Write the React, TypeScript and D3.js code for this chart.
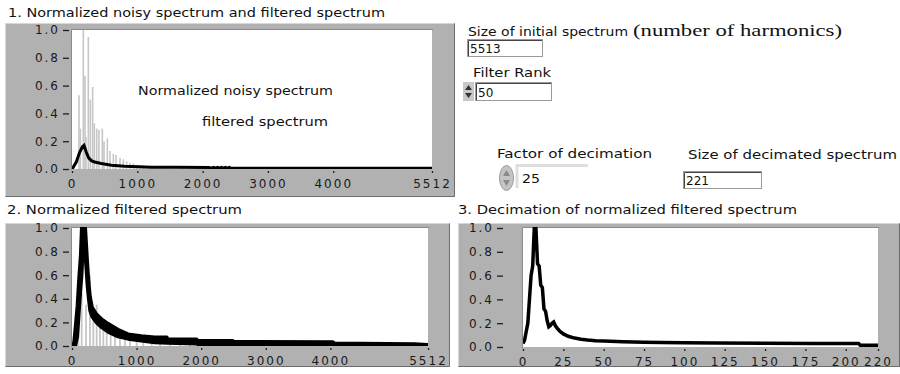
import { useEffect, useRef } from "react";
import * as d3 from "d3";

const W = 900;
const H = 374;

const PANEL = "#b1b1b1";
const SPIKE = "#c6c6c6";
const FONT = "'DejaVu Sans', Tahoma, sans-serif";

const spectrumTicks = [0, 1000, 2000, 3000, 4000, 5512];
const decimatedTicks = [0, 25, 50, 75, 100, 125, 150, 175, 200, 220];
const amplitudeTicks = [0, 0.2, 0.4, 0.6, 0.8, 1.0];

// 1. noisy spectrum spikes: [harmonic, amplitude]
const noisySpikes: [number, number][] = [
  [107, 0.53], [128, 0.29], [173, 1.0], [199, 0.67], [214, 0.23], [250, 0.95],
  [281, 0.5], [316, 0.59], [342, 0.33], [378, 0.29], [413, 0.28], [464, 0.29],
  [490, 0.2], [541, 0.22], [582, 0.13], [633, 0.11], [674, 0.1], [735, 0.08],
  [786, 0.07], [837, 0.055], [888, 0.045], [939, 0.04], [990, 0.03], [1041, 0.028],
  [1092, 0.025], [1143, 0.022], [1194, 0.02], [1250, 0.018], [1300, 0.016],
  [1350, 0.015], [1400, 0.014], [1450, 0.013], [1500, 0.012], [1550, 0.012],
  [1600, 0.011], [1650, 0.011], [1700, 0.01], [1750, 0.01], [1800, 0.01],
  [1850, 0.01], [1900, 0.01], [1950, 0.009], [2000, 0.009], [2050, 0.009],
];

// 1. filtered spectrum (same scale as noisy)
const filteredSpectrum: [number, number][] = [
  [0, 0], [15, 0.01], [66, 0.05], [117, 0.12], [160, 0.16], [184, 0.17],
  [219, 0.12], [255, 0.08], [296, 0.06], [347, 0.05], [449, 0.04], [602, 0.027],
  [806, 0.02], [1215, 0.013], [1600, 0.012], [2100, 0.011], [2130, 0.006],
  [2170, 0.012], [2190, 0.006], [2230, 0.012], [2250, 0.006], [2290, 0.012],
  [2310, 0.006], [2350, 0.012], [2370, 0.006], [2410, 0.011], [2430, 0.005],
  [5512, 0.005],
];

// 2. noisy spectrum drawn behind the normalized filtered spectrum
const normNoisySpikes: [number, number][] = [
  [98, 0.26], [150, 0.45], [217, 0.35], [279, 0.6], [330, 0.29], [382, 0.35],
  [433, 0.2], [485, 0.18], [537, 0.16], [599, 0.15], [666, 0.13], [743, 0.12],
  [820, 0.1], [898, 0.09], [1001, 0.08], [1104, 0.07], [1234, 0.06], [1362, 0.05],
  [1517, 0.045], [1672, 0.04], [1827, 0.035], [1981, 0.03], [2136, 0.025], [2240, 0.02],
];

// 2. normalized filtered spectrum: [harmonic, low, high] of the dense trace
const normFilteredBand: [number, number, number][] = [
  [0, 0, 0], [31, 0, 0.03], [52, 0, 0.15], [83, 0.08, 0.34], [108, 0.29, 0.57],
  [134, 0.49, 0.77], [150, 0.6, 1.0], [175, 0.9, 1.0], [206, 0.77, 1.0],
  [222, 0.65, 0.85], [237, 0.52, 0.71], [258, 0.4, 0.54], [279, 0.3, 0.42],
  [310, 0.25, 0.33], [377, 0.2, 0.27], [454, 0.16, 0.23], [557, 0.12, 0.19],
  [712, 0.08, 0.14], [867, 0.06, 0.1], [1073, 0.045, 0.085], [1280, 0.03, 0.075],
  [1470, 0.025, 0.074], [1475, 0.025, 0.057], [1930, 0.02, 0.057], [1940, 0.015, 0.045],
  [2490, 0.012, 0.045], [2500, 0.01, 0.036], [4040, 0.009, 0.033], [4060, 0.006, 0.024],
  [5300, 0.004, 0.018], [5512, 0, 0.01],
];

// 3. decimated spectrum: [index, amplitude]
const decimatedSpectrum: [number, number][] = [
  [0, 0.03], [1, 0.06], [2, 0.13], [3, 0.2], [4, 0.4], [5, 0.6], [6, 0.68],
  [7, 1.0], [8, 1.0], [9, 0.7], [10, 0.68], [11, 0.52], [12, 0.5], [13, 0.32],
  [14, 0.3], [15, 0.22], [16, 0.17], [17, 0.18], [18, 0.2], [19, 0.21], [20, 0.18],
  [21, 0.16], [23, 0.13], [25, 0.11], [28, 0.09], [32, 0.075], [36, 0.065],
  [40, 0.058], [45, 0.052], [50, 0.05], [62, 0.045], [75, 0.04], [86, 0.037],
  [100, 0.036], [120, 0.034], [150, 0.032], [180, 0.03], [208, 0.03], [209, 0.014],
  [220, 0.014],
];

type Panel = {
  id: string;
  frame: [number, number, number, number];
  x0: number; x1: number; y0: number; y1: number;
  axisX: number;
  xMax: number;
  xTicks: number[];
};

const panels: Panel[] = [
  { id: "p1", frame: [5, 23, 450, 174], x0: 72, x1: 432, y0: 30, y1: 169, axisX: 69, xMax: 5512, xTicks: spectrumTicks },
  { id: "p2", frame: [5, 223, 445, 144], x0: 72, x1: 428, y0: 228, y1: 346, axisX: 69, xMax: 5512, xTicks: spectrumTicks },
  { id: "p3", frame: [458, 223, 442, 144], x0: 523, x1: 878, y0: 228, y1: 347, axisX: 503, xMax: 220, xTicks: decimatedTicks },
];

function drawPanel(svg: d3.Selection<SVGSVGElement, unknown, null, undefined>, p: Panel) {
  const [fx, fy, fw, fh] = p.frame;
  const g = svg.append("g");
  g.append("rect").attr("x", fx).attr("y", fy).attr("width", fw).attr("height", fh).attr("fill", PANEL);
  g.append("path")
    .attr("d", `M${fx + 0.5},${fy + fh - 0.5}V${fy + 0.5}H${fx + fw - 0.5}`)
    .attr("stroke", "#d8d8d8").attr("fill", "none");
  g.append("path")
    .attr("d", `M${fx + 0.5},${fy + fh - 0.5}H${fx + fw - 0.5}V${fy + 0.5}`)
    .attr("stroke", "#6c6c6c").attr("fill", "none");

  const x = d3.scaleLinear().domain([0, p.xMax]).range([p.x0, p.x1]);
  const y = d3.scaleLinear().domain([0, 1]).range([p.y1, p.y0]);

  g.append("rect").attr("x", p.x0).attr("y", p.y0)
    .attr("width", p.x1 - p.x0).attr("height", p.y1 - p.y0).attr("fill", "#fff");
  g.append("path")
    .attr("d", `M${p.x0 - 0.5},${p.y1 + 1}V${p.y0 - 0.5}H${p.x1 + 1}`)
    .attr("stroke", "#8a8a8a").attr("fill", "none");

  const yAxis = g.append("g")
    .attr("transform", `translate(${p.axisX},0)`)
    .call(d3.axisLeft(y).tickValues(amplitudeTicks).tickFormat(d3.format(".1f")).tickSize(6).tickPadding(3));
  yAxis.select(".domain").remove();

  const xAxis = g.append("g")
    .attr("transform", `translate(0,${p.y1 + 2})`)
    .call(d3.axisBottom(x).tickValues(p.xTicks).tickFormat(d3.format("d")).tickSize(2).tickPadding(6));
  xAxis.select(".domain").remove();

  for (const ax of [xAxis, yAxis]) {
    ax.selectAll("line").attr("stroke", "#1e1e1e").attr("stroke-width", 1.3);
    ax.selectAll("text")
      .attr("fill", "#1a1a1a")
      .style("font-family", FONT)
      .style("font-size", "12px")
      .style("letter-spacing", "2px");
  }

  svg.append("clipPath").attr("id", p.id).append("rect")
    .attr("x", p.x0).attr("y", p.y0 - 1).attr("width", p.x1 - p.x0).attr("height", p.y1 - p.y0 + 1);
  const plot = g.append("g").attr("clip-path", `url(#${p.id})`);
  return { g, x, y, plot };
}

function label(svg: any, txt: string, x: number, y: number, len?: number, size = 12, family = FONT) {
  const t = svg.append("text")
    .attr("x", x).attr("y", y)
    .attr("fill", "#111")
    .style("font-family", family)
    .style("font-size", `${size}px`)
    .text(txt);
  if (len) t.attr("textLength", len).attr("lengthAdjust", "spacingAndGlyphs");
  return t;
}

function numBox(svg: any, x: number, y: number, w: number, h: number, val: string) {
  svg.append("rect").attr("x", x + 0.5).attr("y", y + 0.5).attr("width", w - 1).attr("height", h - 1)
    .attr("fill", "#fff").attr("stroke", "#9a9a9a");
  svg.append("path").attr("d", `M${x + 1.5},${y + h - 1}V${y + 1.5}H${x + w - 1}`)
    .attr("stroke", "#444").attr("fill", "none");
  label(svg, val, x + 3, y + h - 4, undefined, 12);
}

export default function App() {
  const ref = useRef<SVGSVGElement>(null);

  useEffect(() => {
    const svg = d3.select(ref.current!);
    svg.selectAll("*").remove();
    svg.append("rect").attr("width", W).attr("height", H).attr("fill", "#fff");

    // chart 1
    const c1 = drawPanel(svg as any, panels[0]);
    c1.plot.selectAll("line.spike").data(noisySpikes).enter().append("line")
      .attr("x1", (d) => c1.x(d[0])).attr("x2", (d) => c1.x(d[0]))
      .attr("y1", c1.y(0)).attr("y2", (d) => c1.y(d[1]))
      .attr("stroke", SPIKE).attr("stroke-width", 1.6);
    c1.plot.append("path")
      .attr("d", d3.line<[number, number]>().x((d) => c1.x(d[0])).y((d) => c1.y(d[1]))(filteredSpectrum)!)
      .attr("fill", "none").attr("stroke", "#000").attr("stroke-width", 3);

    // chart 2
    const c2 = drawPanel(svg as any, panels[1]);
    c2.plot.selectAll("line.spike").data(normNoisySpikes).enter().append("line")
      .attr("x1", (d) => c2.x(d[0])).attr("x2", (d) => c2.x(d[0]))
      .attr("y1", c2.y(0)).attr("y2", (d) => c2.y(d[1]))
      .attr("stroke", SPIKE).attr("stroke-width", 1.8);
    c2.plot.append("path")
      .attr("d", d3.area<[number, number, number]>()
        .x((d) => c2.x(d[0])).y0((d) => c2.y(d[1])).y1((d) => c2.y(d[2]))(normFilteredBand)!)
      .attr("fill", "#000").attr("stroke", "#000").attr("stroke-width", 3.5).attr("stroke-linejoin", "round");

    // chart 3
    const c3 = drawPanel(svg as any, panels[2]);
    c3.plot.append("path")
      .attr("d", d3.line<[number, number]>().x((d) => c3.x(d[0])).y((d) => c3.y(d[1]))(decimatedSpectrum)!)
      .attr("fill", "none").attr("stroke", "#000").attr("stroke-width", 3.5);

    // titles
    label(svg, "1. Normalized noisy spectrum and filtered spectrum", 8, 17, 377);
    label(svg, "2. Normalized filtered spectrum", 7, 214, 235);
    label(svg, "3. Decimation of normalized filtered spectrum", 458, 214, 339);
    label(svg, "Normalized noisy spectrum", 138, 95, 195);
    label(svg, "filtered spectrum", 202, 126, 126);

    // controls
    label(svg, "Size of initial spectrum", 468, 36, 160);
    label(svg, "(number of harmonics)", 633, 36, 209, 16, "'Liberation Serif', 'Times New Roman', serif");
    numBox(svg, 467, 39, 76, 18, "5513");

    label(svg, "Filter Rank", 473, 77, 78);
    svg.append("rect").attr("x", 463).attr("y", 82).attr("width", 11).attr("height", 19).attr("fill", "#c8c8c8");
    svg.append("path").attr("d", "M465,90L468.5,85L472,90Z M465,93L468.5,98L472,93Z").attr("fill", "#333");
    numBox(svg, 475, 82, 77, 19, "50");

    label(svg, "Factor  of decimation", 497, 158, 155);
    svg.append("path").attr("d", "M517,188V165.5H588").attr("stroke", "#dedede").attr("stroke-width", 3).attr("fill", "none");
    svg.append("ellipse").attr("cx", 506.5).attr("cy", 178).attr("rx", 7).attr("ry", 12.5)
      .attr("fill", "#c4c4c4").attr("stroke", "#9c9c9c");
    svg.append("path").attr("d", "M503,176L506.5,170L510,176Z M503,180L506.5,186L510,180Z").attr("fill", "#8a8a8a");
    label(svg, "25", 522, 183, 18);

    label(svg, "Size of decimated spectrum", 688, 159, 209);
    numBox(svg, 683, 171, 79, 18, "221");
  }, []);

  return (
    <svg ref={ref} width={W} height={H} style={{ position: "absolute", left: 0, top: 0 }} />
  );
}
